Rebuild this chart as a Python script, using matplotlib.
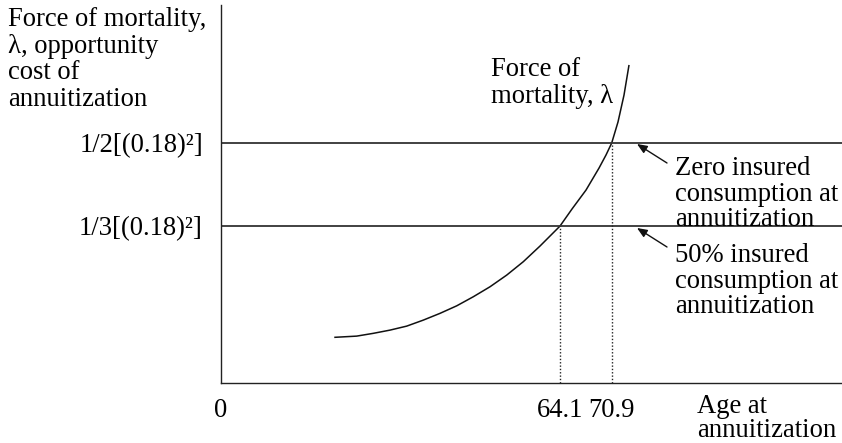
import matplotlib
matplotlib.use("Agg")
import matplotlib.pyplot as plt

# ---- data (schematic) ----
curve_age = [34.40, 37.35, 39.53, 41.73, 43.93, 46.11, 48.31, 50.51, 52.69, 54.89,
             57.09, 59.27, 61.47, 64.1, 65.68, 67.52, 69.23, 70.15, 70.9, 71.73,
             72.52, 73.18]
curve_lambda = [0.00356, 0.00364, 0.00382, 0.00403, 0.00429, 0.00468, 0.00512, 0.00561,
                0.0062, 0.00685, 0.00761, 0.00848, 0.0095, 0.0108, 0.01191, 0.01314,
                0.01457, 0.01542, 0.0162, 0.01757, 0.01932, 0.02128]
levels = [0.0162, 0.0108]  # 1/2*(0.18)^2, 1/3*(0.18)^2
level_labels = ["1/2[(0.18)²]", "1/3[(0.18)²]"]
cross_ages = [70.9, 64.1]
x_origin_age = 19.5
x_tick_labels = ["0", "64.1", "70.9"]

W, H = 842, 443
FONT = ["Liberation Serif", "DejaVu Serif"]
FS = 19.2
YMIN, YMAX = 0.00059, 0.02518

fig = plt.figure(figsize=(W / 100, H / 100), dpi=100)
ax = fig.add_axes([221 / W, (H - 383) / H, 1 - 221 / W, (383 - 5) / H])
ax.set_xlim(x_origin_age, 101.2)
ax.set_ylim(YMIN, YMAX)

for s in ["top", "right"]:
    ax.spines[s].set_visible(False)
for s in ["left", "bottom"]:
    ax.spines[s].set_linewidth(1.0)
    ax.spines[s].set_color("#222222")

ax.plot(curve_age, curve_lambda, color="#111111", lw=1.1, solid_capstyle="butt",
        solid_joinstyle="round")
for lv in levels:
    ax.axhline(lv, color="#333333", lw=1.3)
for a, lv in zip(cross_ages, levels):
    ax.plot([a, a], [YMIN, lv], color="#222222", lw=1.0, ls=(0, (1.0, 1.4)))

ax.set_yticks(levels)
ax.set_yticklabels(level_labels, fontfamily=FONT, fontsize=FS)
ax.set_xticks([x_origin_age, cross_ages[1], cross_ages[0]])
ax.set_xticklabels(x_tick_labels, fontfamily=FONT, fontsize=FS)
ax.tick_params(axis="y", length=0, pad=13)
ax.tick_params(axis="x", length=0, pad=11)


def fp(x, y):
    return (x / W, 1 - y / H)


def txt(x, y, s):
    fig.text(*fp(x, y), s, family=FONT, fontsize=FS, ha="left", va="baseline")


txt(8, 26 + 0, "Force of mortality,")
txt(8, 26 + 26.7, "λ, opportunity")
txt(8, 26 + 53.4, "cost of")
txt(8, 26 + 80.1, "annuitization")

txt(491, 76, "Force of")
txt(491, 103, "mortality, λ")

txt(697, 413, "Age at")
txt(697, 437, "annuitization")

txt(675, 175, "Zero insured")
txt(675, 201, "consumption at")
txt(675, 226, "annuitization")
txt(675, 262, "50% insured")
txt(675, 288, "consumption at")
txt(675, 313, "annuitization")

for tail, head in [((667, 163), (637, 144)), ((667, 247), (637, 228))]:
    ax.annotate("", xy=fp(*head), xycoords="figure fraction",
                xytext=fp(*tail), textcoords="figure fraction",
                arrowprops=dict(arrowstyle="-|>,head_length=0.6,head_width=0.25",
                                color="#111111", lw=1.0, shrinkA=0, shrinkB=0))

fig.savefig("out.png", dpi=100)
